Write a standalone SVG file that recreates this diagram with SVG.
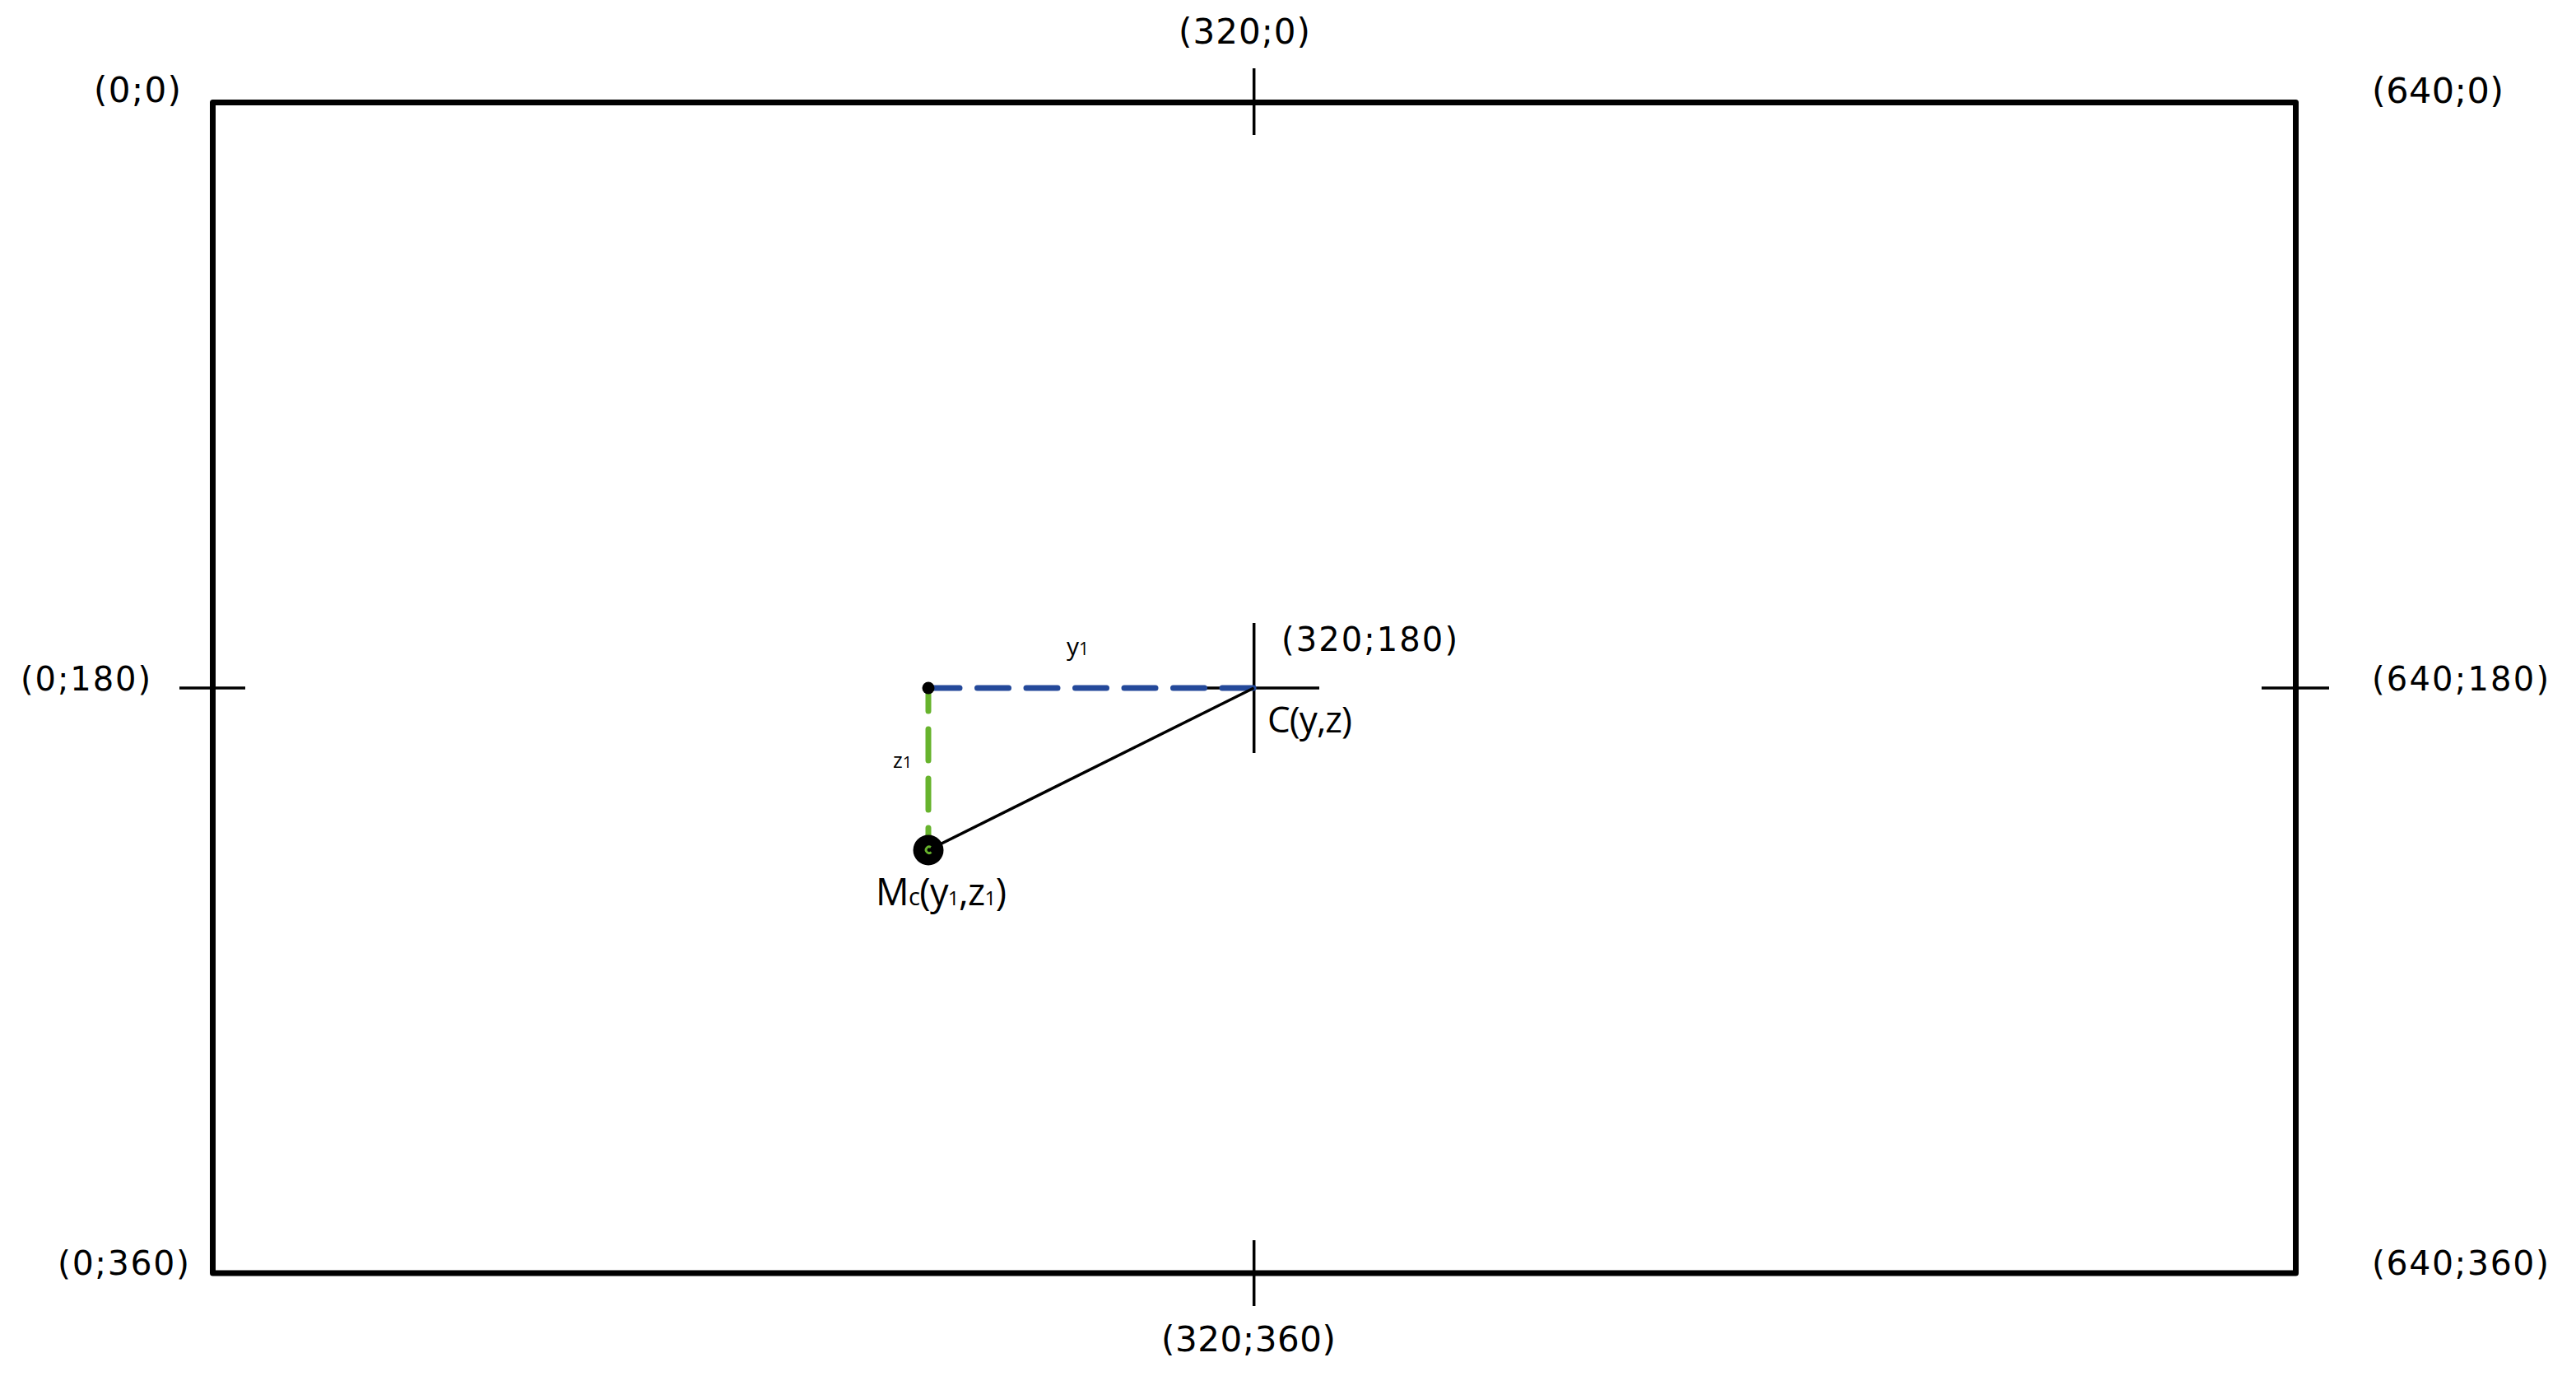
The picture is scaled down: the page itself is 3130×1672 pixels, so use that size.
<svg xmlns="http://www.w3.org/2000/svg" width="3130" height="1672" viewBox="0 0 3130 1672">
<style>
  .lbl { font-family: "DejaVu Sans", "Liberation Sans", sans-serif; fill: #000; }
  .math { font-family: "Open Sans", "Noto Sans", sans-serif; fill: #000; }
  .tick { stroke: #000; stroke-width: 3.5; fill: none; }
</style>
<rect width="3130" height="1672" fill="#fff"/>

<g id="frame">
  <rect x="258.5" y="124.5" width="2531" height="1422.5" fill="none" stroke="#000" stroke-width="7" stroke-linejoin="round"/>
  <line class="tick" x1="1523.7" y1="83" x2="1523.7" y2="164"/>
  <line class="tick" x1="1523.7" y1="1507" x2="1523.7" y2="1587"/>
  <line class="tick" x1="218" y1="836" x2="298" y2="836"/>
  <line class="tick" x1="2748" y1="836" x2="2830" y2="836"/>
</g>

<g id="corner-labels">
  <text class="lbl" x="114" y="124" font-size="42" textLength="106">(0;0)</text>
  <text class="lbl" x="1432" y="53" font-size="42" textLength="160">(320;0)</text>
  <text class="lbl" x="2882" y="125" font-size="43" textLength="160">(640;0)</text>
  <text class="lbl" x="25" y="839" font-size="40" textLength="158">(0;180)</text>
  <text class="lbl" x="2882" y="839" font-size="40" textLength="215">(640;180)</text>
  <text class="lbl" x="70" y="1549" font-size="41" textLength="160">(0;360)</text>
  <text class="lbl" x="1411" y="1642" font-size="42" textLength="212">(320;360)</text>
  <text class="lbl" x="2882" y="1549" font-size="41" textLength="215">(640;360)</text>
</g>

<g id="node-C">
  <line class="tick" x1="1523.7" y1="757" x2="1523.7" y2="915"/>
  <line class="tick" x1="1444" y1="836" x2="1603" y2="836"/>
  <text class="lbl" x="1557" y="791" font-size="40" textLength="214">(320;180)</text>
  <text class="math" x="1540" y="890" font-size="44" textLength="103">C(y,z)</text>
</g>

<g id="connectors">
  <line id="y1-line" x1="1128" y1="836" x2="1523" y2="836" stroke="#24499a" stroke-width="7" stroke-linecap="round" stroke-dasharray="38 21.5"/>
  <line id="z1-line" x1="1128" y1="836" x2="1128" y2="1032" stroke="#67b32d" stroke-width="7" stroke-linecap="round" stroke-dasharray="38 22" stroke-dashoffset="10"/>
  <line id="mc-c-line" x1="1128" y1="1033" x2="1523.5" y2="836" stroke="#000" stroke-width="3.5"/>
</g>

<g id="node-corner">
  <circle cx="1128" cy="836" r="7.5" fill="#000"/>
</g>

<g id="node-Mc">
  <circle cx="1128" cy="1033" r="18.5" fill="#000"/>
  <path d="M1131,1029.5 a3.8,3.8 0 1 0 0.5,6" fill="none" stroke="#67b32d" stroke-width="2.8"/>
  <text class="math" x="1064" y="1100" font-size="45" textLength="159">M<tspan font-size="29">c</tspan>(y<tspan font-size="24">1</tspan>,z<tspan font-size="24">1</tspan>)</text>
</g>

<g id="labels">
  <text class="math" x="1296" y="796" font-size="30">y<tspan font-size="21">1</tspan></text>
  <text class="math" x="1085" y="933" font-size="25">z<tspan font-size="20">1</tspan></text>
</g>
</svg>
